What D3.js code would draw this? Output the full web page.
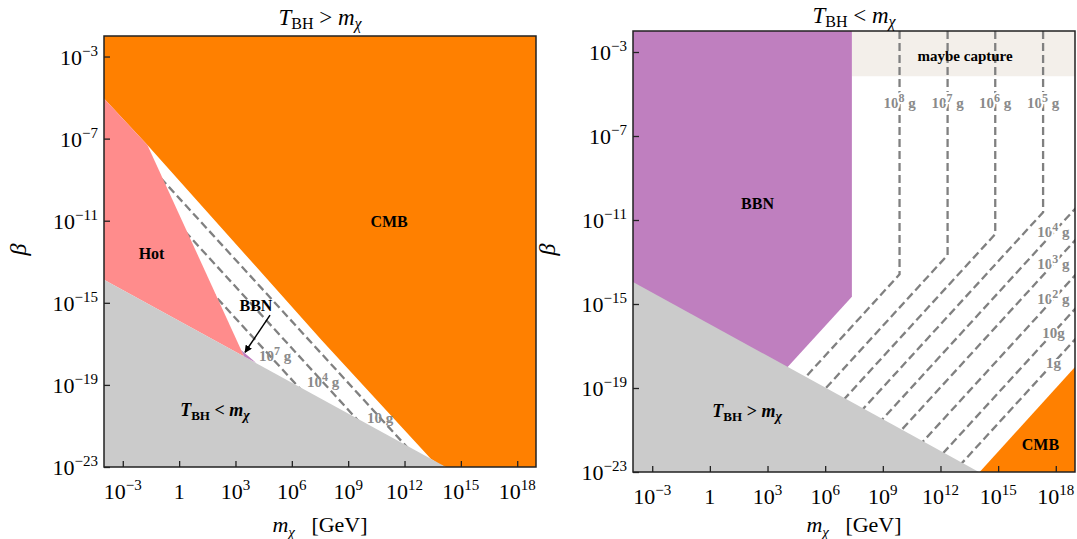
<!DOCTYPE html>
<html>
<head>
<meta charset="utf-8">
<script src="https://cdn.jsdelivr.net/npm/d3@7"></script>
<style>
  body { margin: 0; background: #fff; }
  text { font-family: "Liberation Serif", "DejaVu Serif", serif; }
</style>
</head>
<body>
<svg id="chart" width="1077" height="539"></svg>
<script>
// all points are [log10 m_chi / GeV, log10 beta]
const xTicks = [-3, 0, 3, 6, 9, 12, 15, 18]
const yTicks = [-23, -19, -15, -11, -7, -3]

// left panel, T_BH > m_chi
const cmbLeft = [[-4, -2], [-4, -5.05], [-1.69, -7.31], [7.59, -16.82], [13.4, -22.6], [13.9, -22.9], [14.2, -23], [19, -23], [19, -2]]
const hotLeft = [[-4, -5.05], [-1.69, -7.31], [3.46, -17.61], [-4, -13.88]]
const grayLeft = [[-4, -13.88], [14.2, -23], [-4, -23]]
const bbnLeft = [[3.3, -17.3], [3.46, -17.61], [4.1, -17.93]]
// constant PBH mass lines, beta = c / m  (c in log10)
const leftMassExp = [7, 4, 1]
const leftLineC = [-12.75, -11.21, -9.9]
const leftLabelAt = [[5.11, -17.6], [7.66, -18.87], [10.7, -20.6]]

// right panel, T_BH < m_chi
const bbnRight = [[-4, -2], [7.39, -2], [7.39, -14.65], [4.0, -18.05], [-4, -18.05]]
const captureRight = [[7.39, -2], [19, -2], [19, -4.15], [7.39, -4.15]]
const grayRight = [[-4, -13.95], [14.0, -23], [-4, -23]]
const cmbRight = [[14.04, -23], [19, -18.0], [19, -23]]
// vertical+diagonal lines
const vertMassExp = [8, 7, 6, 5]
const vertX = [9.87, 12.37, 14.85, 17.34]
const vertKinkY = [-13.59, -12.67, -11.67, -10.63]
const vertLabelY = -5.42
// pure diagonal lines, beta = c * m
const diagMassExp = [4, 3, 2, 1, 0]
const diagC = [-29.47, -30.97, -32.64, -34.24, -35.69]
const diagLabelX = 17.875

const svg = d3.select("#chart")
const P = v => Math.pow(10, v)

function panel(box, id) {
  const g = svg.append("g")
  const x = d3.scaleLog().domain([1e-4, 1e19]).range([box.x0, box.x1])
  const y = d3.scaleLog().domain([1e-23, 1e-2]).range([box.y1, box.y0])
  g.append("clipPath").attr("id", id)
    .append("rect").attr("x", box.x0).attr("y", box.y0)
    .attr("width", box.x1 - box.x0).attr("height", box.y1 - box.y0)
  const body = g.append("g").attr("clip-path", `url(#${id})`)
  const line = d3.line().x(d => x(P(d[0]))).y(d => y(P(d[1])))
  return {g, body, x, y, line, box}
}

function area(p, pts, color) {
  p.body.append("path").attr("d", p.line(pts) + "Z").attr("fill", color)
}

function dashed(p, pts) {
  p.body.append("path").attr("d", p.line(pts))
    .attr("fill", "none").attr("stroke", "#808080")
    .attr("stroke-width", 2.3).attr("stroke-dasharray", "8,4")
}

function pow10(t, e, sup, dy) {
  if (e === 0) { t.append("tspan").text("1"); return }
  t.append("tspan").text("10")
  t.append("tspan").attr("font-size", sup).attr("dy", -dy).text(e < 0 ? "\u2212" + (-e) : e)
}

function massLabel(p, pos, e, halo) {
  const t = p.g.append("text")
    .attr("x", p.x(P(pos[0]))).attr("y", p.y(P(pos[1])) + 5)
    .attr("text-anchor", "middle").attr("font-size", 15).attr("font-weight", "bold")
    .attr("fill", "#8a8a8a")
  if (halo) t.attr("stroke", "#fff").attr("stroke-width", 4).attr("paint-order", "stroke")
  if (e === 0) t.append("tspan").text("1g")
  else if (e === 1) t.append("tspan").text(halo ? "10g" : "10 g")
  else {
    t.append("tspan").text("10")
    t.append("tspan").attr("font-size", 12).attr("dy", -6).text(e)
    t.append("tspan").attr("dy", 6).text(" g")
  }
}

function tempLabel(p, pos, sign) {
  const t = p.g.append("text")
    .attr("x", p.x(P(pos[0]))).attr("y", p.y(P(pos[1])) + 5)
    .attr("text-anchor", "middle").attr("font-size", 18).attr("font-weight", "bold")
  t.append("tspan").attr("font-style", "italic").text("T")
  t.append("tspan").attr("font-size", 13).attr("dy", 4).text("BH")
  t.append("tspan").attr("dy", -4).text(" " + sign + " ")
  t.append("tspan").attr("font-style", "italic").text("m")
  t.append("tspan").attr("font-style", "italic").attr("font-size", 14).attr("dy", 4).text("\u03c7")
}

function regionLabel(p, pos, s, size) {
  p.g.append("text").attr("x", p.x(P(pos[0]))).attr("y", p.y(P(pos[1])) + 5)
    .attr("text-anchor", "middle").attr("font-size", size || 16).attr("font-weight", "bold")
    .text(s)
}

function frame(p, sign, titleY) {
  const b = p.box
  p.g.append("rect").attr("x", b.x0).attr("y", b.y0)
    .attr("width", b.x1 - b.x0).attr("height", b.y1 - b.y0)
    .attr("fill", "none").attr("stroke", "#222").attr("stroke-width", 1.5)
  p.g.append("g").attr("transform", `translate(0,${b.y1})`)
    .call(d3.axisBottom(p.x).tickValues(xTicks.map(P)).tickSize(-6).tickFormat(""))
    .call(a => a.select(".domain").remove())
    .call(a => a.selectAll("line").attr("stroke", "#222").attr("stroke-width", 1.3))
  p.g.append("g").attr("transform", `translate(${b.x0},0)`)
    .call(d3.axisLeft(p.y).tickValues(yTicks.map(P)).tickSize(-6).tickFormat(""))
    .call(a => a.select(".domain").remove())
    .call(a => a.selectAll("line").attr("stroke", "#222").attr("stroke-width", 1.3))
  xTicks.forEach(e => {
    const t = p.g.append("text").attr("x", p.x(P(e))).attr("y", b.y1 + 32)
      .attr("text-anchor", "middle").attr("font-size", 22)
    pow10(t, e, 15, 9)
  })
  yTicks.forEach(e => {
    const t = p.g.append("text").attr("x", b.x0 - 6).attr("y", p.y(P(e)) + 8)
      .attr("text-anchor", "end").attr("font-size", 22)
    pow10(t, e, 15, 9)
  })
  const cx = (b.x0 + b.x1) / 2
  // x label
  const xl = p.g.append("text").attr("x", cx).attr("y", 532)
    .attr("text-anchor", "middle").attr("font-size", 22)
  xl.append("tspan").attr("font-style", "italic").text("m")
  xl.append("tspan").attr("font-style", "italic").attr("font-size", 15).attr("dy", 5).text("\u03c7")
  xl.append("tspan").attr("dy", -5).text("\u2002 [GeV]")
  // y label
  p.g.append("text").attr("transform", `translate(${b.x0 - 78},${(b.y0 + b.y1) / 2 - 2}) rotate(-90)`)
    .attr("text-anchor", "middle").attr("font-size", 24).attr("font-style", "italic").text("\u03b2")
  // title
  const tt = p.g.append("text").attr("x", cx).attr("y", titleY)
    .attr("text-anchor", "middle").attr("font-size", 23)
  tt.append("tspan").attr("font-style", "italic").text("T")
  tt.append("tspan").attr("font-size", 16).attr("dy", 4).text("BH")
  tt.append("tspan").attr("dy", -4).text(" " + sign + " ")
  tt.append("tspan").attr("font-style", "italic").text("m")
  tt.append("tspan").attr("font-style", "italic").attr("font-size", 16).attr("dy", 4).text("\u03c7")
}

// ---- left panel
const L = panel({x0: 104, x1: 536, y0: 36, y1: 467}, "clipL")
area(L, cmbLeft, "#ff8000")
leftLineC.forEach(c => dashed(L, [[-4, c + 4], [19, c - 19]]))
area(L, hotLeft, "#ff8c8c")
area(L, grayLeft, "#cbcbcb")
area(L, bbnLeft, "#bf7fbf")
leftMassExp.forEach((e, i) => massLabel(L, leftLabelAt[i], e, false))
regionLabel(L, [11.18, -11.07], "CMB")
regionLabel(L, [-1.47, -12.62], "Hot")
regionLabel(L, [4.09, -15.17], "BBN")
tempLabel(L, [1.91, -20.28], "<")
// arrow to the BBN sliver
svg.append("defs").append("marker").attr("id", "head")
  .attr("viewBox", "0 0 10 10").attr("refX", 9).attr("refY", 5)
  .attr("markerWidth", 5).attr("markerHeight", 5).attr("orient", "auto")
  .append("path").attr("d", "M0,0L10,5L0,10Z").attr("fill", "#000")
L.g.append("line")
  .attr("x1", L.x(P(4.84))).attr("y1", L.y(P(-15.6)))
  .attr("x2", L.x(P(3.51))).attr("y2", L.y(P(-17.41)))
  .attr("stroke", "#000").attr("stroke-width", 1.5).attr("marker-end", "url(#head)")
frame(L, ">", 25)

// ---- right panel
const R = panel({x0: 633, x1: 1075, y0: 31, y1: 472}, "clipR")
area(R, captureRight, "#f3efea")
vertX.forEach((vx, i) => dashed(R, [[vx, -2], [vx, vertKinkY[i]], [vx - 14, vertKinkY[i] - 14]]))
diagC.forEach(c => dashed(R, [[20, 20 + c], [0, c]]))
area(R, bbnRight, "#bf7fbf")
area(R, grayRight, "#cbcbcb")
area(R, cmbRight, "#ff8000")
vertMassExp.forEach((e, i) => massLabel(R, [vertX[i], vertLabelY], e, true))
diagMassExp.forEach((e, i) => massLabel(R, [diagLabelX, diagLabelX + diagC[i]], e, true))
regionLabel(R, [2.48, -10.23], "BBN")
regionLabel(R, [13.28, -3.17], "maybe capture", 15)
regionLabel(R, [17.2, -21.73], "CMB")
tempLabel(R, [1.94, -20.14], ">")
frame(R, "<", 23)
</script>
</body>
</html>
